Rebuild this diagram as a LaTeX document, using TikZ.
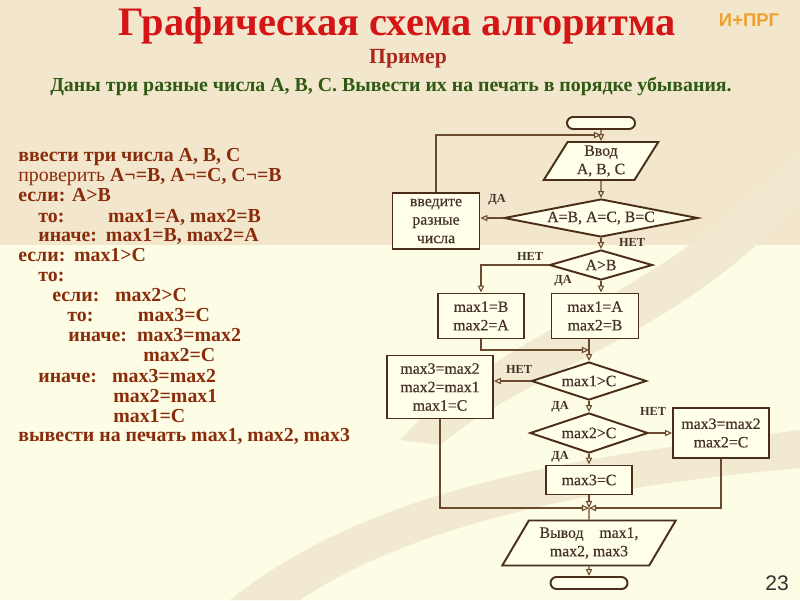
\documentclass[tikz,border=0pt]{standalone}
\usepackage{fontspec}
\setmainfont{Liberation Serif}
\newfontfamily\slidesans{Liberation Sans}
\newfontfamily\chartfont[FakeBold=0.4]{Liberation Serif}
\usetikzlibrary{arrows.meta,shapes.geometric}

\definecolor{bandtop}{HTML}{F2E6CC}
\definecolor{paper}{HTML}{FDFDE5}
\definecolor{swoosh}{HTML}{F1EAD0}
\definecolor{titlered}{HTML}{D51515}
\definecolor{subred}{HTML}{A8281A}
\definecolor{taskgreen}{HTML}{2F5A14}
\definecolor{codecol}{HTML}{8A2C0C}
\definecolor{tagorange}{HTML}{EFA02A}
\definecolor{edge}{HTML}{4A2E1A}
\definecolor{wire}{HTML}{6B4A30}
\definecolor{boxfill}{HTML}{FFFFEA}
\definecolor{ink}{HTML}{45302A}

\begin{document}
\begin{tikzpicture}[
    x=0.02cm, y=-0.02cm,
    % pseudocode lines on the left
    code/.style={anchor=west, inner sep=0pt, text height=8pt, text depth=2.5pt,
        font=\fontsize{11.3}{13}\selectfont\bfseries, text=codecol},
    % flowchart blocks
    block/.style={rectangle, draw=edge, line width=1.1pt, fill=boxfill, text=ink,
        font=\chartfont\fontsize{9}{10.5}\selectfont, align=center, inner sep=1pt},
    cond/.style={diamond, draw=edge, line width=1.1pt, fill=boxfill, text=ink,
        font=\chartfont\fontsize{9}{10.5}\selectfont, inner sep=0pt},
    io/.style={trapezium, trapezium stretches=true, draw=edge, line width=1.1pt,
        fill=boxfill, text=ink, font=\chartfont\fontsize{9}{10.5}\selectfont, align=center, inner sep=1pt},
    term/.style={rectangle, rounded corners=0.12cm, draw=edge, line width=1.1pt,
        fill=boxfill, minimum height=0.24cm, inner sep=0pt},
    flow/.style={draw=wire, line width=0.6pt, -{Triangle[open, length=4pt, width=3.6pt]}},
    wire/.style={draw=wire, line width=0.6pt},
    yesno/.style={font=\fontsize{7}{8}\selectfont\bfseries, text=ink, inner sep=0pt}
]

% Slide background
\fill[paper] (0,0) rectangle (800,600);
\fill[bandtop] (0,0) rectangle (800,245);
\fill[swoosh] (230,600) .. controls (380,480) and (600,455) .. (800,430)
    -- (800,468) .. controls (610,485) and (420,520) .. (300,600) -- cycle;
\fill[swoosh] (400,440) .. controls (500,330) and (660,300) .. (800,150)
    -- (800,200) .. controls (690,330) and (530,370) .. (440,445) -- cycle;

% Titles
\node[font=\fontsize{23}{26}\selectfont\bfseries, text=titlered] (title) at (397,26) {Графическая схема алгоритма};
\node[font=\fontsize{12.3}{15}\selectfont\bfseries, text=subred] (example) at (408,59) {Пример};
\node[font=\fontsize{11.3}{13}\selectfont\bfseries, text=taskgreen] (task) at (391,87)
    {Даны три разные числа А, В, С. Вывести их на печать в порядке убывания.};
\node[font=\slidesans\fontsize{10.5}{12}\selectfont\bfseries, text=tagorange] (tag) at (749,20) {И+ПРГ};
\node[font=\slidesans\fontsize{12}{14}\selectfont, text=black!80] (page) at (777,583) {23};

% Pseudocode
\node[code] (c1) at (18,157) {ввести три числа A, B, C};
\node[code] (c2) at (18,177) {\mdseries проверить \bfseries A¬=B, A¬=C, C¬=B};
\node[code] (c3) at (18,197) {если: A>B};
\node[code] (c4) at (38,218) {\makebox[39.7pt][l]{то:}max1=A, max2=B};
\node[code] (c5) at (38,237) {\makebox[38.5pt][l]{иначе:}max1=B, max2=A};
\node[code] (c6) at (18,257) {\makebox[31.7pt][l]{если:}max1>C};
\node[code] (c7) at (38,277) {то:};
\node[code] (c8) at (52,297) {\makebox[35.7pt][l]{если:}max2>C};
\node[code] (c9) at (67,317) {\makebox[40.2pt][l]{то:}max3=C};
\node[code] (c10) at (68,337) {\makebox[39.1pt][l]{иначе:}max3=max2};
\node[code] (c11) at (143,357) {max2=C};
\node[code] (c12) at (38,378) {\makebox[42pt][l]{иначе:}max3=max2};
\node[code] (c13) at (113,398) {max2=max1};
\node[code] (c14) at (113,418) {max1=C};
\node[code] (c15) at (18,437) {вывести на печать max1, max2, max3};

% Flowchart blocks
\node[term, minimum width=1.36cm] (start) at (601,123) {};
\node[io, trapezium left angle=62, trapezium right angle=118,
    minimum width=2.3cm, minimum height=0.76cm] (input) at (601,161) {Ввод\\A, B, C};
\node[cond, aspect=5.1, minimum width=3.88cm, minimum height=0.76cm] (dec1) at (601,218) {A=B, A=C, B=C};
\node[block, minimum width=1.74cm, minimum height=1.12cm] (err) at (436,221) {введите\\разные\\числа};
\node[cond, aspect=3.4, minimum width=2.06cm, minimum height=0.6cm] (dec2) at (601,265) {A>B};
\node[block, minimum width=1.72cm, minimum height=0.9cm] (box1) at (481,316) {max1=B\\max2=A};
\node[block, minimum width=1.74cm, minimum height=0.9cm] (box2) at (595,316) {max1=A\\max2=B};
\node[cond, aspect=3, minimum width=2.3cm, minimum height=0.76cm] (dec3) at (589,381) {max1>C};
\node[block, minimum width=2.12cm, minimum height=1.26cm] (box3) at (440,387) {max3=max2\\max2=max1\\max1=C};
\node[cond, aspect=3, minimum width=2.36cm, minimum height=0.8cm] (dec4) at (589,433) {max2>C};
\node[block, minimum width=1.92cm, minimum height=1.0cm] (box4) at (721,433) {max3=max2\\max2=C};
\node[block, minimum width=1.72cm, minimum height=0.58cm] (box5) at (589,480) {max3=C};
\node[io, trapezium left angle=57, trapezium right angle=123,
    minimum width=3.5cm, minimum height=0.9cm] (output) at (589,543) {Вывод\quad max1,\\max2, max3};
\node[term, minimum width=1.54cm] (end) at (589,583) {};

% Junction points
\coordinate (j0) at (601,135);
\coordinate (j1) at (589,350);
\coordinate (j2) at (589,508);

% Connectors
\draw[flow] (start.south) -- (input.north);
\draw[flow] (err.north) |- (j0);
\draw[flow] (input.south) -- (dec1.north);
\draw[flow] (dec1.west) -- (dec1.west -| err.east);
\draw[flow] (dec1.south) -- (dec2.north);
\draw[flow] (dec2.west) -| (box1.north);
\draw[flow] (dec2.south) -- (dec2.south |- box2.north);
\draw[flow] (box1.south) |- (j1);
\draw[flow] (box2.south -| dec3.north) -- (dec3.north);
\draw[flow] (dec3.west) -- (dec3.west -| box3.east);
\draw[flow] (dec3.south) -- (dec4.north);
\draw[flow] (dec4.east) -- (box4.west);
\draw[flow] (dec4.south) -- (box5.north);
\draw[flow] (box5.south) -- (j2);
\draw[flow] (box3.south) |- (j2);
\draw[flow] (box4.south) |- (j2);
\draw[wire] (j2) -- (output.north);
\draw[flow] (output.south) -- (end.north);

% Branch labels
\node[yesno] (yes1) at (497,200) {ДА};
\node[yesno] (no1) at (632,242) {НЕТ};
\node[yesno] (no2) at (530,256) {НЕТ};
\node[yesno] (yes2) at (563,281) {ДА};
\node[yesno] (no3) at (519,369) {НЕТ};
\node[yesno] (yes3) at (560,407) {ДА};
\node[yesno] (no4) at (653,411) {НЕТ};
\node[yesno] (yes4) at (560,457) {ДА};

\end{tikzpicture}
\end{document}
